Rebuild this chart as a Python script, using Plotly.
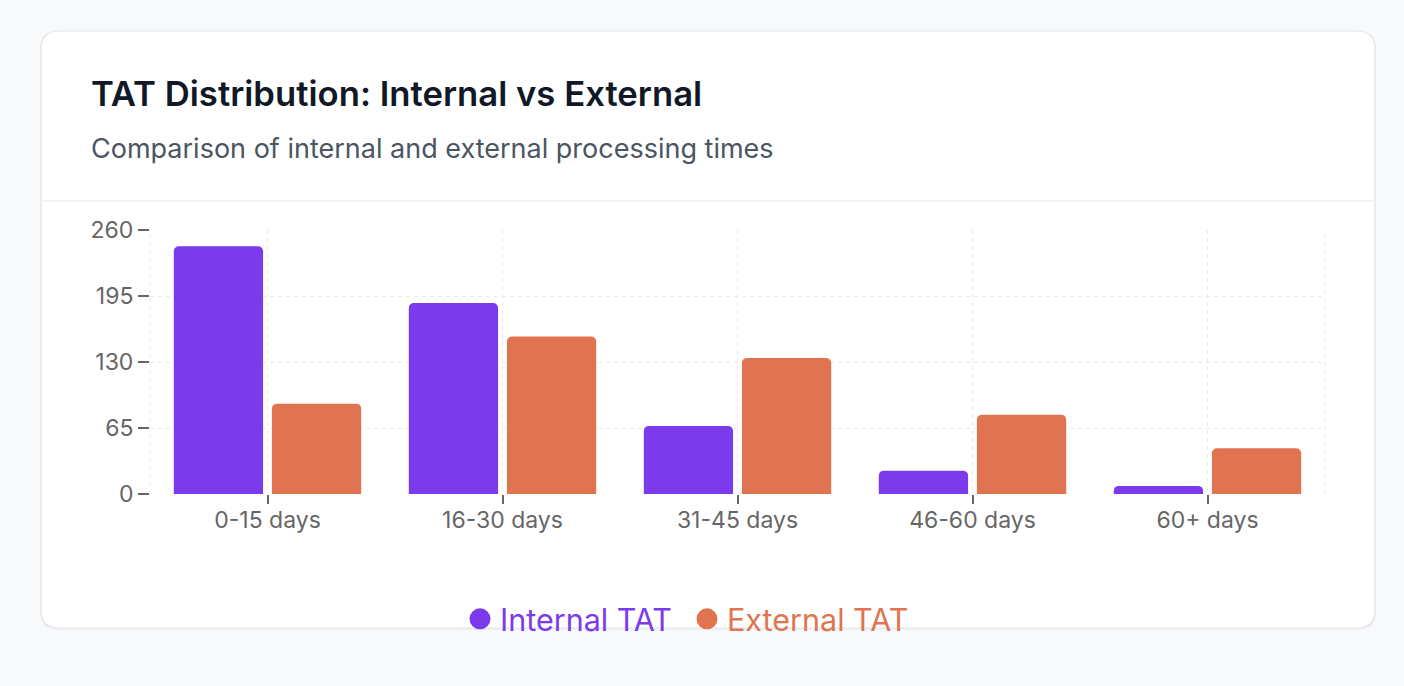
import plotly.graph_objects as go

categories = ["0-15 days", "16-30 days", "31-45 days", "46-60 days", "60+ days"]
internal_tat = [244, 188, 67, 23, 8]
external_tat = [89, 155, 134, 78, 45]
y_ticks = [0, 65, 130, 195, 260]
series_names = ["Internal TAT", "External TAT"]
series_colors = ["#7c3aed", "#e07450"]
title_text = "TAT Distribution: Internal vs External"
subtitle_text = "Comparison of internal and external processing times"

W, H = 1404, 686
L, R, T, B = 150, 1325, 230, 494  # plot area in pixels


def px(x):
    return (x - L) / (R - L)


def py(y):
    return (B - y) / (B - T)


def rounded_rect(x0, y0, x1, y1, r):
    rx = r / (R - L)
    ry = r / (B - T)
    X0, X1 = px(x0), px(x1)
    Y0, Y1 = py(y0), py(y1)  # Y0 top (bigger), Y1 bottom
    return (
        f"M {X0 + rx},{Y0} L {X1 - rx},{Y0} Q {X1},{Y0} {X1},{Y0 - ry} "
        f"L {X1},{Y1 + ry} Q {X1},{Y1} {X1 - rx},{Y1} "
        f"L {X0 + rx},{Y1} Q {X0},{Y1} {X0},{Y1 + ry} "
        f"L {X0},{Y0 - ry} Q {X0},{Y0} {X0 + rx},{Y0} Z"
    )


fig = go.Figure()
for name, vals, col in zip(series_names, [internal_tat, external_tat], series_colors):
    fig.add_trace(go.Bar(
        x=categories, y=vals, name=name, marker=dict(color=col, line=dict(width=0), cornerradius=5),
        showlegend=False, hoverinfo="x+y+name",
    ))
for name, col in zip(series_names, series_colors):
    fig.add_trace(go.Scatter(
        x=[None], y=[None], mode="markers", name=f'<span style="color:{col}">{name}</span>',
        marker=dict(symbol="circle", size=16, color=col, line=dict(color=col, width=5)),
        showlegend=True,
    ))

grid = "#e8eaef"
shapes = [
    # shadow
    dict(type="path", xref="paper", yref="paper", layer="below",
         path=rounded_rect(40, 31, 1376, 630, 18), fillcolor="#eef0f3", line=dict(width=0)),
    # card
    dict(type="path", xref="paper", yref="paper", layer="below",
         path=rounded_rect(41, 31, 1375, 628, 18), fillcolor="white",
         line=dict(color="#e3e5e9", width=1.2)),
    # divider
    dict(type="line", xref="paper", yref="paper", layer="below",
         x0=px(41), x1=px(1375), y0=py(201), y1=py(201), line=dict(color="#e3e5e9", width=1.2)),
    # plot edges dashed
    dict(type="line", xref="paper", yref="paper", layer="below",
         x0=0, x1=0, y0=0, y1=1, line=dict(color=grid, width=1, dash="4px,4px")),
    dict(type="line", xref="paper", yref="paper", layer="below",
         x0=1, x1=1, y0=0, y1=1, line=dict(color=grid, width=1, dash="4px,4px")),
]

annotations = [
    dict(text=title_text, xref="paper", yref="paper", x=px(89), y=py(93), xanchor="left",
         yanchor="middle", showarrow=False,
         font=dict(family="Inter", size=34.7, color="#111827", weight=600)),
    dict(text=subtitle_text, xref="paper", yref="paper", x=px(89), y=py(148), xanchor="left",
         yanchor="middle", showarrow=False,
         font=dict(family="Inter", size=27, color="#4b5563")),
]

fig.update_layout(
    width=W, height=H,
    margin=dict(l=L, r=W - R, t=T, b=H - B, pad=0),
    paper_bgcolor="#f8f9fb", plot_bgcolor="white",
    font=dict(family="Inter", color="#666666"),
    barmode="group", bargap=0.165, bargroupgap=0.09,
    shapes=shapes, annotations=annotations,
    legend=dict(orientation="h", x=px(460), xanchor="left", y=py(619), yanchor="middle",
                font=dict(family="Inter", size=30.5), bgcolor="rgba(0,0,0,0)",
                entrywidth=182, entrywidthmode="pixels"),
    xaxis=dict(type="category", showgrid=True, gridcolor=grid, griddash="4px,4px", gridwidth=1,
               ticks="outside", ticklen=9, tickwidth=1.5, tickcolor="#666666", showline=False,
               zeroline=False, tickfont=dict(size=23, color="#666666"), ticklabelstandoff=-4),
    yaxis=dict(range=[0, 260], tickvals=y_ticks, showgrid=True, gridcolor=grid, griddash="4px,4px",
               gridwidth=1, ticks="outside", ticklen=11, tickwidth=1.5, tickcolor="#666666",
               showline=False, zeroline=False, tickfont=dict(size=23, color="#666666")),
    showlegend=True,
)

fig.write_html("out.html")
